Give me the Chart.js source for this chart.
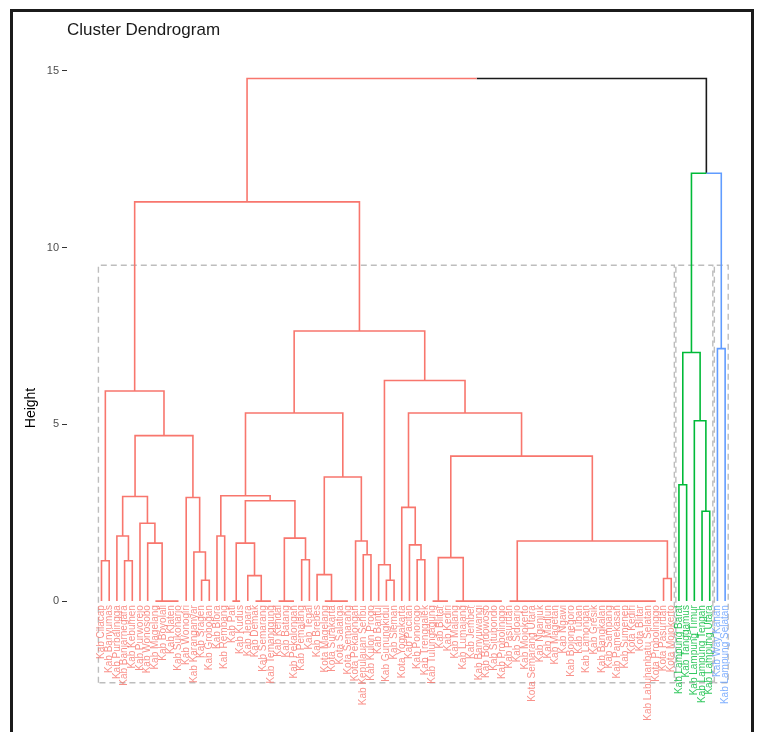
<!DOCTYPE html>
<html>
<head>
<meta charset="utf-8">
<script src="https://cdn.jsdelivr.net/npm/chart.js@4.4.1/dist/chart.umd.min.js"></script>
<style>
  html, body { margin: 0; padding: 0; background: #fff; }
  #wrap { position: relative; width: 757px; height: 732px; overflow: hidden; }
  #frame { position: absolute; left: 10px; top: 9px; width: 738px; height: 740px;
           border: 3px solid #1b1b1b; border-bottom: none; pointer-events: none; }
  canvas { position: absolute; left: 0; top: 0; }
</style>
</head>
<body>
<div id="wrap">
  <canvas id="dend" width="757" height="732"></canvas>
  <div id="frame"></div>
</div>
<script>
// leaves, left to right as they appear under the tree
const leafLabels = [
  'Kab Cilacap', 'Kab Banyumas', 'Kab Purbalingga', 'Kab Banjarnegara', 'Kab Kebumen',
  'Kab Purworejo', 'Kab Wonosobo', 'Kab Magelang', 'Kab Boyolali', 'Kab Klaten',
  'Kab Sukoharjo', 'Kab Wonogiri', 'Kab Karanganyar', 'Kab Sragen', 'Kab Grobogan',
  'Kab Blora', 'Kab Rembang', 'Kab Pati', 'Kab Kudus', 'Kab Jepara',
  'Kab Demak', 'Kab Semarang', 'Kab Temanggung', 'Kab Kendal', 'Kab Batang',
  'Kab Pekalongan', 'Kab Pemalang', 'Kab Tegal', 'Kab Brebes', 'Kota Magelang',
  'Kota Surakarta', 'Kota Salatiga', 'Kota Semarang', 'Kota Pekalongan', 'Kab Kepulauan Seribu',
  'Kab Kulon Progo', 'Kab Bantul', 'Kab Gunungkidul', 'Kab Sleman', 'Kota Yogyakarta',
  'Kab Pacitan', 'Kab Ponorogo', 'Kab Trenggalek', 'Kab Tulungagung', 'Kab Blitar',
  'Kab Kediri', 'Kab Malang', 'Kab Lumajang', 'Kab Jember', 'Kab Banyuwangi',
  'Kab Bondowoso', 'Kab Situbondo', 'Kab Probolinggo', 'Kab Pasuruan', 'Kab Sidoarjo',
  'Kab Mojokerto', 'Kota Semarang Utara', 'Kab Nganjuk', 'Kab Madiun', 'Kab Magetan',
  'Kab Ngawi', 'Kab Bojonegoro', 'Kab Tuban', 'Kab Lamongan', 'Kab Gresik',
  'Kab Bangkalan', 'Kab Sampang', 'Kab Pamekasan', 'Kab Sumenep', 'Kota Kediri',
  'Kota Blitar', 'Kab Labuhanbatu Selatan', 'Kota Probolinggo', 'Kota Pasuruan', 'Kota Mojokerto',
  'Kab Lampung Barat', 'Kab Tanggamus', 'Kab Lampung Timur', 'Kab Lampung Tengah', 'Kab Lampung Utara',
  'Kab Way Kanan', 'Kab Lampung Selatan'
];

// k = 3 cut: consecutive leaves per cluster
const clusterSizes = [75, 5, 2];
const clusterColors = ['#F8766D', '#00BA38', '#619CFF'];
const mixedColor = '#1a1a1a';

// hclust-style merges: negative = leaf number (1-based), positive = earlier merge
const mergePairs = [
  [-1, -2], [-4, -5], [-3, 2], [-10, -11], [-9, 4], [-8, 5], [-7, 6], [-6, 7], [3, 8],
  [-14, -15], [-13, 10], [-12, 11], [9, 12], [1, 13],
  [-16, -17], [-18, -19], [-22, -23], [-21, 17], [-20, 18], [16, 19],
  [-25, -26], [-24, 21], [-27, -28], [22, 23], [20, 24], [15, 25],
  [-32, -33], [-31, 27], [-30, 28], [-29, 29], [-35, -36], [-34, 31], [30, 32], [26, 33],
  [-38, -39], [-37, 35], [-42, -43], [-41, 37], [-40, 38],
  [-45, -46], [-44, 40],
  [-52, -53], [-51, 42], [-50, 43], [-49, 44], [-48, 45], [-47, 46], [41, 47],
  [-72, -73], [-71, 49], [-70, 50], [-69, 51], [-68, 52], [-67, 53], [-66, 54], [-65, 55],
  [-64, 56], [-63, 57], [-62, 58], [-61, 59], [-60, 60], [-59, 61], [-58, 62], [-57, 63],
  [-56, 64], [-55, 65], [-54, 66],
  [-74, -75], [67, 68], [48, 69], [39, 70], [36, 71], [34, 72], [14, 73],
  [-76, -77], [-79, -80], [-78, 76], [75, 77], [-81, -82], [78, 79], [74, 80]
];
const mergeHeights = [
  1.14, 1.14, 1.84, 0, 0, 0, 1.64, 2.20, 2.96,
  0.59, 1.39, 2.93, 4.68, 5.94,
  1.84, 0, 0, 0, 0.72, 1.64,
  0, 0, 1.17, 1.78, 2.84, 2.98,
  0, 0, 0, 0.75, 1.31, 1.70, 3.51, 5.32,
  0.59, 1.03, 1.17, 1.59, 2.65,
  0, 0,
  0, 0, 0, 0, 0, 0, 1.23,
  0, 0, 0, 0, 0, 0, 0, 0,
  0, 0, 0, 0, 0, 0, 0, 0,
  0, 0, 0,
  0.64, 1.70, 4.10, 5.32, 6.24, 7.64, 11.29,
  3.29, 2.54, 5.10, 7.03, 7.14, 12.10, 14.78
];

const yTicks = [0, 5, 10, 15];
const rectTop = 9.5;
const rectBottom = -2.31;

// cluster of every leaf
const leafCluster = [];
clusterSizes.forEach((n, c) => { for (let i = 0; i < n; i++) leafCluster.push(c); });

// walk the merges, building the elbow segments per colour
const segs = { '-1': [], 0: [], 1: [], 2: [] };
const nodeX = [], nodeH = [], nodeCl = [];
const ref = (r) => r < 0
  ? { x: -r - 1, h: 0, cl: leafCluster[-r - 1] }
  : { x: nodeX[r - 1], h: nodeH[r - 1], cl: nodeCl[r - 1] };

mergePairs.forEach(([a, b], i) => {
  const A = ref(a), B = ref(b), h = mergeHeights[i];
  nodeX[i] = (A.x + B.x) / 2;
  nodeH[i] = h;
  nodeCl[i] = A.cl === B.cl ? A.cl : -1;
  [A, B].forEach((c) => {
    segs[c.cl].push({ x: nodeX[i], y: h }, { x: c.x, y: h }, { x: c.x, y: c.h }, { x: c.x, y: null });
  });
});

// dashed boxes round the clusters
const rectPts = [];
let start = 0;
clusterSizes.forEach((n) => {
  const l = start - 0.4, r = start + n - 1 + 0.4;
  rectPts.push({ x: l, y: rectBottom }, { x: l, y: rectTop }, { x: r, y: rectTop },
               { x: r, y: rectBottom }, { x: l, y: rectBottom }, { x: l, y: null });
  start += n;
});

const branch = (data, color) => ({
  data, borderColor: color, borderWidth: 1.6, showLine: true, spanGaps: false,
  pointRadius: 0, fill: false, tension: 0, borderJoinStyle: 'miter', order: 1,
});

const textPlugin = {
  id: 'dendText',
  afterDatasetsDraw(chart) {
    const { ctx, scales: { x, y }, chartArea } = chart;
    ctx.save();
    ctx.font = '10px "Liberation Sans", Arial, sans-serif';
    ctx.textAlign = 'right';
    ctx.textBaseline = 'middle';
    const y0 = y.getPixelForValue(0) + 4;
    leafLabels.forEach((lab, i) => {
      ctx.save();
      ctx.translate(x.getPixelForValue(i), y0);
      ctx.rotate(-Math.PI / 2);
      ctx.fillStyle = clusterColors[leafCluster[i]];
      ctx.globalAlpha = 0.8;
      ctx.fillText(lab, 0, 0);
      ctx.restore();
    });
    ctx.fillStyle = '#1a1a1a';
    ctx.textAlign = 'left';
    ctx.font = '17px "Liberation Sans", Arial, sans-serif';
    ctx.fillText('Cluster Dendrogram', chartArea.left, 30);
    ctx.translate(31, 408);
    ctx.rotate(-Math.PI / 2);
    ctx.textAlign = 'center';
    ctx.font = '14px "Liberation Sans", Arial, sans-serif';
    ctx.fillStyle = '#000';
    ctx.fillText('Height', 0, 0);
    ctx.restore();
  },
};

new Chart(document.getElementById('dend'), {
  type: 'scatter',
  data: {
    datasets: [
      { data: rectPts, borderColor: '#bdbdbd', borderWidth: 1.4, borderDash: [6, 4],
        showLine: true, spanGaps: false, pointRadius: 0, fill: false, order: 2 },
      branch(segs[0], clusterColors[0]),
      branch(segs[1], clusterColors[1]),
      branch(segs[2], clusterColors[2]),
      branch(segs['-1'], mixedColor),
    ],
  },
  options: {
    responsive: false,
    animation: false,
    layout: { padding: { top: 50, right: 7, bottom: 0, left: 0 } },
    plugins: { legend: { display: false }, tooltip: { enabled: false }, title: { display: false } },
    scales: {
      x: { type: 'linear', display: false, min: -4.48, max: 84.23 },
      y: {
        type: 'linear', min: -3.43, max: 15.585,
        afterBuildTicks: (axis) => { axis.ticks = yTicks.map((v) => ({ value: v })); },
        afterFit: (axis) => { axis.width = 67; },
        border: { display: false },
        grid: { drawOnChartArea: false, drawTicks: true, tickLength: 5, color: '#333', lineWidth: 1 },
        ticks: { color: '#4d4d4d', padding: 3, font: { family: '"Liberation Sans", Arial, sans-serif', size: 11 } },
      },
    },
  },
  plugins: [textPlugin],
});
</script>
</body>
</html>
